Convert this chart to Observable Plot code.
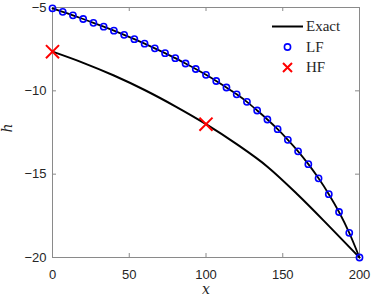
<!DOCTYPE html>
<html>
<head>
<meta charset="utf-8">
<script src="https://cdn.jsdelivr.net/npm/d3@7"></script>
<script src="https://cdn.jsdelivr.net/npm/@observablehq/plot@0.6"></script>
<style>
  html, body { margin: 0; padding: 0; background: #fff; }
  #wrap { position: relative; width: 374px; height: 299px; }
  #legend { position: absolute; left: 0; top: 0; pointer-events: none; }
</style>
</head>
<body>
<div id="wrap"></div>
<script>
// ---- data ----
const lfX = [0, 6.67, 13.33, 20, 26.67, 33.33, 40, 46.67, 53.33, 60, 66.67, 73.33, 80, 86.67, 93.33, 100,
             106.67, 113.33, 120, 126.67, 133.33, 140, 146.67, 153.33, 160, 166.67, 173.33, 180, 186.67, 193.33, 200];
const lfH = [-5.05, -5.26, -5.47, -5.69, -5.92, -6.15, -6.39, -6.64, -6.90, -7.17, -7.45, -7.74, -8.04, -8.36, -8.69, -9.04,
             -9.41, -9.80, -10.21, -10.66, -11.18, -11.72, -12.30, -12.94, -13.63, -14.40, -15.25, -16.20, -17.27, -18.52, -20.0];
const exactX = [0, 20, 40, 60, 80, 100, 120, 140, 160, 180, 200];
const exactH = [-7.65, -8.32, -9.08, -9.95, -10.93, -12.0, -13.2, -14.55, -16.25, -18.1, -20.0];
const hfX = [0, 100];
const hfH = [-7.65, -12.0];
const xTicks = [0, 50, 100, 150, 200];
const yTicks = [-20, -15, -10, -5];
const legendLabels = ["Exact", "LF", "HF"];
const xLabel = "x";
const yLabel = "h";

const lf = lfX.map((x, i) => ({x, h: lfH[i]}));
const exact = exactX.map((x, i) => ({x, h: exactH[i]}));
const hf = hfX.map((x, i) => ({x, h: hfH[i]}));

const W = 374, H = 299;
const mL = 52, mR = 15, mT = 7, mB = 42;
const fw = W - mL - mR, fh = H - mT - mB;
const tl = 4;
const axisCol = "#8a8a8a";
const txtCol = "#262626";

const chart = Plot.plot({
  width: W, height: H,
  marginLeft: mL, marginRight: mR, marginTop: mT, marginBottom: mB,
  style: {background: "#fff", color: txtCol, fontFamily: "'Liberation Sans', Arial, sans-serif", fontSize: "13px"},
  x: {domain: [0, 200]},
  y: {domain: [-20, -5]},
  marks: [
    Plot.frame({stroke: axisCol, strokeWidth: 1}),
    Plot.tickX(xTicks, {x: d => d, insetTop: fh - tl, stroke: axisCol}),
    Plot.tickX(xTicks, {x: d => d, insetBottom: fh - tl, stroke: axisCol}),
    Plot.tickY(yTicks, {y: d => d, insetRight: fw - tl, stroke: axisCol}),
    Plot.tickY(yTicks, {y: d => d, insetLeft: fw - tl, stroke: axisCol}),
    Plot.axisX({ticks: xTicks, tickSize: 0, tickPadding: 12, label: null, fontSize: 13}),
    Plot.axisY({ticks: yTicks, tickSize: 0, tickPadding: 6, label: null, fontSize: 13}),
    Plot.line(exact, {x: "x", y: "h", stroke: "#000", strokeWidth: 2, curve: "monotone-x"}),
    Plot.line(lf, {x: "x", y: "h", stroke: "#000", strokeWidth: 1.8, curve: "monotone-x"}),
    Plot.dot(lf, {x: "x", y: "h", r: 3.1, stroke: "#0000ff", strokeWidth: 1.6, fill: "none"}),
    Plot.dot(hf, {x: "x", y: "h", symbol: "times", r: 6, stroke: "#ff0000", strokeWidth: 2}),
    Plot.text([xLabel], {text: d => d, frameAnchor: "bottom", dy: 36, fontFamily: "'DejaVu Serif', serif", fontStyle: "italic", fontSize: 14, fill: txtCol}),
    Plot.text([yLabel], {text: d => d, frameAnchor: "left", dx: -45, rotate: -90, fontFamily: "'DejaVu Serif', serif", fontStyle: "italic", fontSize: 14, fill: txtCol})
  ]
});

const wrap = document.getElementById("wrap");
wrap.appendChild(chart);

// legend overlay
const ns = "http://www.w3.org/2000/svg";
const lg = document.createElementNS(ns, "svg");
lg.setAttribute("id", "legend");
lg.setAttribute("width", W);
lg.setAttribute("height", H);
const symX = 287.5, txtX = 306;
const rows = [26.5, 47, 67.5];
function el(tag, attrs) {
  const e = document.createElementNS(ns, tag);
  for (const k in attrs) e.setAttribute(k, attrs[k]);
  lg.appendChild(e);
  return e;
}
el("line", {x1: 272, x2: 303, y1: rows[0], y2: rows[0], stroke: "#000", "stroke-width": 2});
el("circle", {cx: symX, cy: rows[1], r: 3.1, fill: "none", stroke: "#0000ff", "stroke-width": 1.6});
el("path", {d: `M${symX-4.5},${rows[2]-4.5}L${symX+4.5},${rows[2]+4.5}M${symX-4.5},${rows[2]+4.5}L${symX+4.5},${rows[2]-4.5}`, stroke: "#ff0000", "stroke-width": 2, fill: "none"});
legendLabels.forEach((t, i) => {
  const tx = el("text", {x: txtX, y: rows[i] + 4.8, fill: txtCol, "font-family": "'Liberation Serif', 'DejaVu Serif', serif", "font-size": 15});
  tx.textContent = t;
});
wrap.appendChild(lg);
</script>
</body>
</html>
